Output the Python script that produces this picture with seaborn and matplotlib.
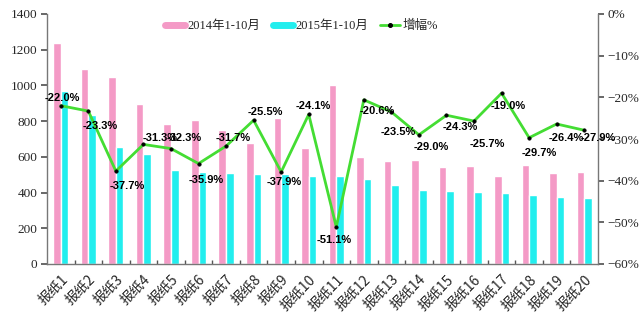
import numpy as np
import pandas as pd
import matplotlib
matplotlib.use("Agg")
import matplotlib.pyplot as plt
import seaborn as sns
from matplotlib.lines import Line2D
from matplotlib.ticker import FuncFormatter, MultipleLocator, FixedLocator

categories = [f"报纸{i}" for i in range(1, 21)]
values_2014 = [1240, 1090, 1050, 894, 782, 805, 750, 676, 815, 648,
               1005, 598, 575, 581, 542, 547, 492, 553, 508, 514]
values_2015 = [967, 836, 654, 614, 529, 516, 512, 504, 506, 492,
               491, 475, 440, 412, 410, 406, 398, 389, 374, 371]
growth_pct = [-22.0, -23.3, -37.7, -31.3, -32.3, -35.9, -31.7, -25.5, -37.9, -24.1,
              -51.1, -20.6, -23.5, -29.0, -24.3, -25.7, -19.0, -29.7, -26.4, -27.9]
series_names = ["2014年1-10月", "2015年1-10月", "增幅%"]

# label offsets in pixels (dx right, dy down) relative to each line point
label_offsets = [(2, -8), (12, 15), (11, 15), (17, -6), (13, -11), (8, 16), (7, -8),
                 (12, -8), (3, 10), (5, -8), (-2, 13), (13, 11), (7, 20), (12, 12),
                 (14, 12), (13, 23), (7, 13), (10, 15), (10, 14), (14, 8)]

pink = "#F49AC6"
cyan = "#22EEEE"
green = "#44DD33"

sns.set_theme(style="white")
plt.rcParams["font.family"] = ["Liberation Serif", "Noto Sans CJK SC", "DejaVu Sans"]

df = pd.DataFrame({
    "cat": categories * 2,
    "val": values_2014 + values_2015,
    "series": [series_names[0]] * len(categories) + [series_names[1]] * len(categories),
})

fig = plt.figure(figsize=(6.4, 3.21), dpi=100)
ax = fig.add_axes([47 / 640, 1 - 264 / 321, (598 - 47) / 640, (264 - 14) / 321])

sns.barplot(data=df, x="cat", y="val", hue="series", order=categories,
            palette=[pink, cyan], width=0.55, saturation=1, ax=ax, legend=False)

ax.set_xlim(-0.5, len(categories) - 0.5)
ax.set_ylim(0, 1400)
ax.yaxis.set_major_locator(MultipleLocator(200))
ax.set_xlabel("")
ax.set_ylabel("")

ax2 = ax.twinx()
xpos = np.arange(len(categories))
sns.lineplot(x=xpos, y=growth_pct, ax=ax2, color=green, linewidth=2,
             marker="o", markersize=2.6, markerfacecolor="black",
             markeredgecolor="black", markeredgewidth=0.3)
ax2.set_ylim(-60, 0)
ax2.yaxis.set_major_locator(MultipleLocator(10))
ax2.yaxis.set_major_formatter(FuncFormatter(lambda v, p: f"{int(round(v))}%".replace("-", "\u2212")))
ax2.set_xlim(-0.5, len(categories) - 0.5)

for x, v, (dx, dy) in zip(xpos, growth_pct, label_offsets):
    ax2.annotate(f"{v:.1f}%", xy=(x, v), xytext=(dx, -dy), textcoords="offset pixels",
                 ha="center", va="center", fontsize=8, fontweight="bold",
                 family=["Liberation Sans", "DejaVu Sans"], color="black")

# x ticks: labels at centers, tick marks at boundaries
ax.set_xticks(xpos)
ax.set_xticklabels(categories, rotation=45, ha="right", rotation_mode="anchor",
                   fontsize=10, family=["Noto Sans CJK SC", "DejaVu Sans"])
ax.tick_params(axis="x", which="major", length=0, pad=6)
ax.xaxis.set_minor_locator(FixedLocator(np.arange(0.5, len(categories) - 0.5, 1)))
ax.tick_params(axis="x", which="minor", length=3, direction="in", color="#555555", bottom=True)

ax.tick_params(axis="y", which="major", length=4, direction="out", color="#555555",
               labelsize=9.5, left=True, pad=3)
ax2.tick_params(axis="y", which="major", length=4, direction="out", color="#555555",
                labelsize=9.5, right=True, pad=3)

for a in (ax, ax2):
    a.spines["top"].set_visible(False)
    for s in ["left", "right", "bottom"]:
        a.spines[s].set_color("#777777")
        a.spines[s].set_linewidth(1.0)
ax.spines["right"].set_visible(False)
ax2.spines["left"].set_visible(False)
ax2.spines["bottom"].set_visible(False)

handles = [Line2D([], [], color=pink, lw=5),
           Line2D([], [], color=cyan, lw=5),
           Line2D([], [], color=green, lw=2, marker="o", markersize=2.6,
                  markerfacecolor="black", markeredgecolor="black")]
leg = ax.legend(handles, series_names, loc="upper center", bbox_to_anchor=(0.462, 1.02),
                ncol=3, frameon=False, handlelength=1.6, handletextpad=0.2,
                columnspacing=1.0, prop={"family": ["Liberation Serif", "Noto Sans CJK SC"], "size": 9})

fig.savefig("out.png", dpi=100, facecolor="white")
